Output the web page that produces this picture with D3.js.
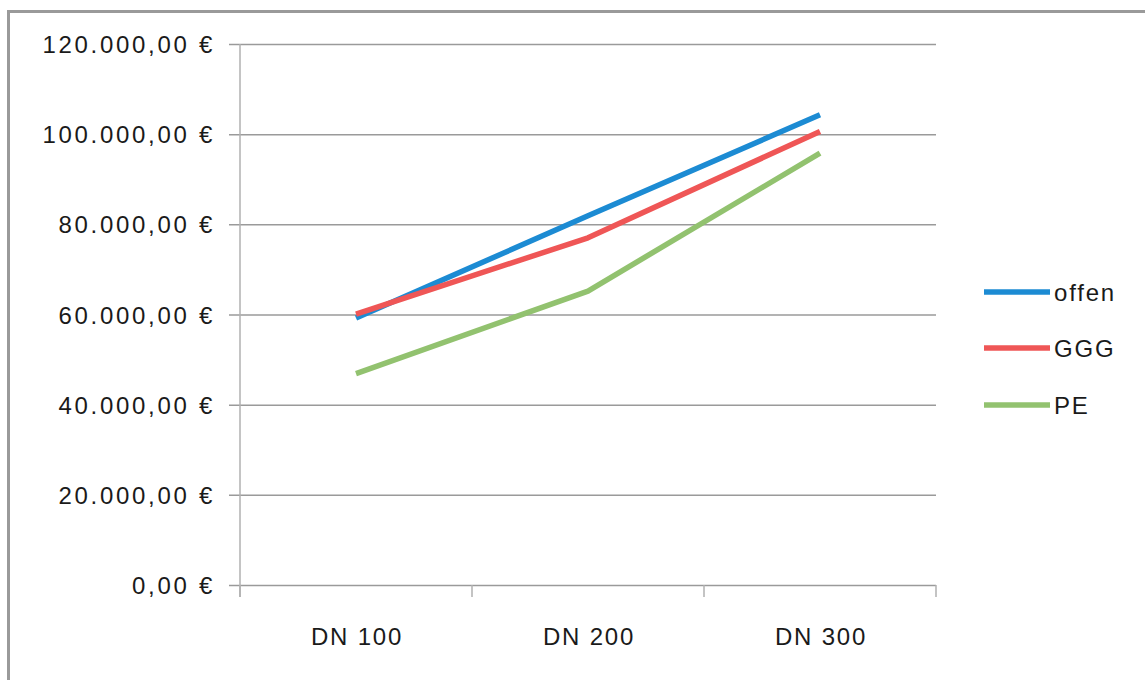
<!DOCTYPE html>
<html>
<head>
<meta charset="utf-8">
<script src="https://cdn.jsdelivr.net/npm/d3@7"></script>
<style>
  body { margin: 0; background: #fff; }
  text { font-family: "Liberation Sans", Arial, sans-serif; fill: #1a1a1a; }
</style>
</head>
<body>
<svg id="chart" width="1145" height="680"></svg>
<script>
const categories = ["DN 100", "DN 200", "DN 300"];
const seriesNames = ["offen", "GGG", "PE"];
const offen = [59200, 81900, 104300];
const ggg = [60100, 77000, 100600];
const pe = [46900, 65200, 95800];
const yTicks = [0, 20000, 40000, 60000, 80000, 100000, 120000];
const colors = ["#1c8bd3", "#ef5656", "#92c26f"];

const series = [offen, ggg, pe];

const svg = d3.select("#chart");
const W = 1145, H = 680;
const plot = { left: 240, right: 936, top: 44, bottom: 585 };

// outer frame
svg.append("rect")
  .attr("x", 8.5).attr("y", 11.5)
  .attr("width", W + 10).attr("height", H + 10)
  .attr("fill", "none").attr("stroke", "#9a9a9a").attr("stroke-width", 3);

const x = d3.scaleBand().domain(categories).range([plot.left, plot.right]);
const y = d3.scaleLinear().domain([0, 120000]).range([plot.bottom, plot.top]);

const fmt = v => {
  const s = d3.format(",.2f")(v);
  return s.replace(/,/g, "#").replace(".", ",").replace(/#/g, ".") + " €";
};

// gridlines + y axis
const yAxis = d3.axisLeft(y).tickValues(yTicks)
  .tickSize(-(plot.right - plot.left)).tickSizeOuter(0)
  .tickPadding(0).tickFormat(fmt);
const gy = svg.append("g").attr("transform", `translate(${plot.left},0)`).call(yAxis);
gy.select(".domain").remove();
gy.selectAll(".tick line")
  .attr("x1", -11)
  .attr("stroke", "#9a9a9a").attr("stroke-width", 1.5);
gy.selectAll(".tick text")
  .attr("x", -25).attr("dy", "0.36em")
  .style("font-size", "24px").style("letter-spacing", "2.7px")
  .attr("fill", "#1a1a1a");

// y axis line
svg.append("line")
  .attr("x1", plot.left).attr("x2", plot.left)
  .attr("y1", plot.top).attr("y2", plot.bottom + 12)
  .attr("stroke", "#b0b0b0").attr("stroke-width", 1.5);

// x axis ticks (category boundaries)
const bounds = categories.map(c => x(c)).concat([plot.right]);
svg.selectAll(".xt").data(bounds).enter().append("line")
  .attr("x1", d => d).attr("x2", d => d)
  .attr("y1", plot.bottom).attr("y2", plot.bottom + 12)
  .attr("stroke", "#b0b0b0").attr("stroke-width", 1.5);

// x labels
svg.selectAll(".xl").data(categories).enter().append("text")
  .attr("x", d => x(d) + x.bandwidth() / 2 + 1)
  .attr("y", 645)
  .attr("text-anchor", "middle")
  .style("font-size", "24px").style("letter-spacing", "1.8px")
  .text(d => d);

// lines
const line = d3.line()
  .x((d, i) => x(categories[i]) + x.bandwidth() / 2)
  .y(d => y(d));
series.forEach((s, k) => {
  svg.append("path").datum(s)
    .attr("d", line)
    .attr("fill", "none")
    .attr("stroke", colors[k])
    .attr("stroke-width", 5.5)
    .attr("stroke-linejoin", "round");
});

// legend
const legY = [292, 348, 405];
seriesNames.forEach((n, k) => {
  svg.append("line")
    .attr("x1", 984).attr("x2", 1050)
    .attr("y1", legY[k]).attr("y2", legY[k])
    .attr("stroke", colors[k]).attr("stroke-width", 5.5);
  svg.append("text")
    .attr("x", 1054).attr("y", legY[k] + 9)
    .style("font-size", "24px").style("letter-spacing", "1.8px")
    .text(n);
});
</script>
</body>
</html>
